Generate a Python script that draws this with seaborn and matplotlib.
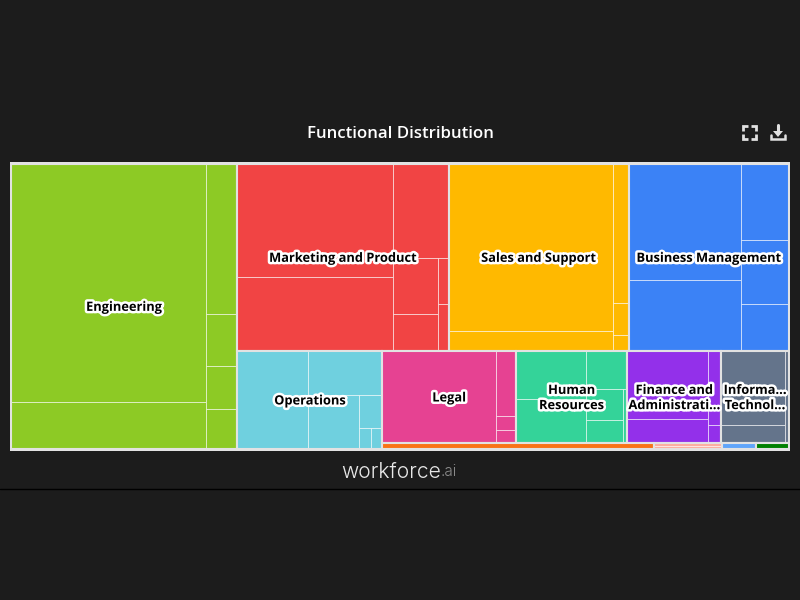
import matplotlib
matplotlib.use("Agg")
import matplotlib.pyplot as plt
import matplotlib.patheffects as pe
import seaborn as sns

TITLE = "Functional Distribution"
GAP_COLOR = "#E2E2E2"

# tile sizes per function
engineering = [45956, 8998, 4725, 1607, 1355, 1260]
marketing = [17269, 11206, 5217, 2475, 1620, 495, 506]
sales = [26811, 3240, 2208, 496, 256]
business = [12708, 7735, 3563, 3016, 2209]
operations = [6722, 3161, 2658, 769, 255, 228]
legal = [10128, 1254, 254, 254]
human_resources = [3231, 3005, 1539, 1080, 828, 239]
finance = [5293, 1896, 949, 234]
information_tech = [4471, 1107, 364]
orange_group = [1431, 198]
rose_group = [204, 204]
sky_group = [207]
dark_green_group = [186]

group_values = [engineering, marketing, sales, business, operations, legal,
                human_resources, finance, information_tech,
                orange_group, rose_group, sky_group, dark_green_group]
group_totals = [64620, 39576, 33714, 30005, 14210, 12282, 10240, 8666, 6210,
                1632, 408, 204, 195]
group_labels = ["Engineering", "Marketing and Product", "Sales and Support",
                "Business Management", "Operations", "Legal",
                "Human\nResources", "Finance and\nAdministrati...",
                "Informa...\nTechnol...", "", "", "", ""]
group_colors = ["#8DCA25", "#F14444", "#FFB900", "#3B82F6", "#6FD0DF", "#E64292",
                "#34D399", "#9330EA", "#64748B", "#F97316", "#FDADA0", "#60A5FA",
                "#008000"]

# how many tiles go in each strip, strips alternate column / row
top_strips = [1, 3, 1, 4, 1, 3]
group_strips = [[2, 1, 3], [2, 1, 2, 1, 1], [2, 1, 2], [2, 1, 2],
                [1, 1, 1, 1, 1, 1], [1, 1, 2], [2, 1, 2, 1], [2, 1, 1], [2, 1],
                [2], [2], [1], [1]]


def layout(values, strips, x, y, w, h):
    rects = []
    left = list(values)
    column = True
    for count in strips:
        chunk, left = left[:count], left[count:]
        share = sum(chunk) / (sum(chunk) + sum(left))
        if column:
            sw = w * share
            cy = y
            for v in chunk:
                ch = h * v / sum(chunk)
                rects.append((x, cy, sw, ch))
                cy += ch
            x += sw
            w -= sw
        else:
            sh = h * share
            cx = x
            for v in chunk:
                cw = w * v / sum(chunk)
                rects.append((cx, y, cw, sh))
                cx += cw
            y += sh
            h -= sh
        column = not column
    return rects


def main():
    sns.set_theme(style="dark", rc={"figure.facecolor": "#1C1C1C", "axes.facecolor": GAP_COLOR})
    plt.rcParams["font.family"] = ["Open Sans", "DejaVu Sans"]

    fig = plt.figure(figsize=(8, 6), dpi=100)

    # overlay in pixels for header and footer
    page = fig.add_axes([0, 0, 1, 1], facecolor="#1C1C1C")
    page.set_xlim(0, 800)
    page.set_ylim(600, 0)
    page.axis("off")

    page.text(400.5, 133.5, TITLE, color="white", fontsize=12.1, fontweight=600,
              ha="center", va="center")
    page.plot([0, 800], [489, 489], color="black", lw=1)

    # fullscreen icon
    for cx, cy, dx, dy in [(743, 126, 1, 1), (756, 126, -1, 1), (743, 139, 1, -1), (756, 139, -1, -1)]:
        page.plot([cx + 5 * dx, cx, cx], [cy, cy, cy + 5 * dy], color="#E0E0E0", lw=2,
                  solid_capstyle="butt", solid_joinstyle="miter")
    # download icon
    page.plot([778, 778], [125, 133], color="#E0E0E0", lw=2.2)
    page.fill([773, 783, 778], [131, 131, 137], color="#E0E0E0", lw=0)
    page.plot([771, 771, 785, 785], [135, 139, 139, 135], color="#E0E0E0", lw=1.8,
              solid_joinstyle="miter")

    # logo
    page.text(441, 472, "workforce", color="#E8E8E8", fontsize=15.2, fontweight=300,
              family=["Inter", "DejaVu Sans"], ha="right", va="center")
    page.text(441, 472, ".ai", color="#8A8A8A", fontsize=11, fontweight=300,
              family=["Inter", "DejaVu Sans"], ha="left", va="center")

    ax = fig.add_axes([10 / 800, 1 - 451 / 600, 780 / 800, 289 / 600])
    ax.set_xlim(0, 780)
    ax.set_ylim(289, 0)
    ax.set_xticks([])
    ax.set_yticks([])
    sns.despine(ax=ax, left=True, bottom=True)

    group_rects = layout(group_totals, top_strips, 1, 1.7, 778, 285.3)

    for values, strips, rect, color in zip(group_values, group_strips, group_rects, group_colors):
        gx, gy, gw, gh = rect
        tiles = layout(values, strips, gx, gy, gw, gh)
        ax.bar([t[0] for t in tiles], [t[3] for t in tiles], width=[t[2] for t in tiles],
               bottom=[t[1] for t in tiles], align="edge", color=color,
               edgecolor=(1, 1, 1, 0.55), linewidth=0.7)
        # group outline goes over the outer tile edges
        ax.bar(gx, gh, width=gw, bottom=gy, align="edge", facecolor="none",
               edgecolor=GAP_COLOR, linewidth=1.5)

    for rect, label in zip(group_rects, group_labels):
        gx, gy, gw, gh = rect
        if label:
            ax.text(gx + gw / 2, gy + gh / 2 + 1, label, color="black", fontsize=9.25,
                    fontweight="bold", ha="center", va="center", linespacing=1.22,
                    path_effects=[pe.withStroke(linewidth=3.6, foreground="white")])

    fig.savefig("out.png", dpi=100, facecolor=fig.get_facecolor())
    plt.close(fig)


if __name__ == "__main__":
    main()
